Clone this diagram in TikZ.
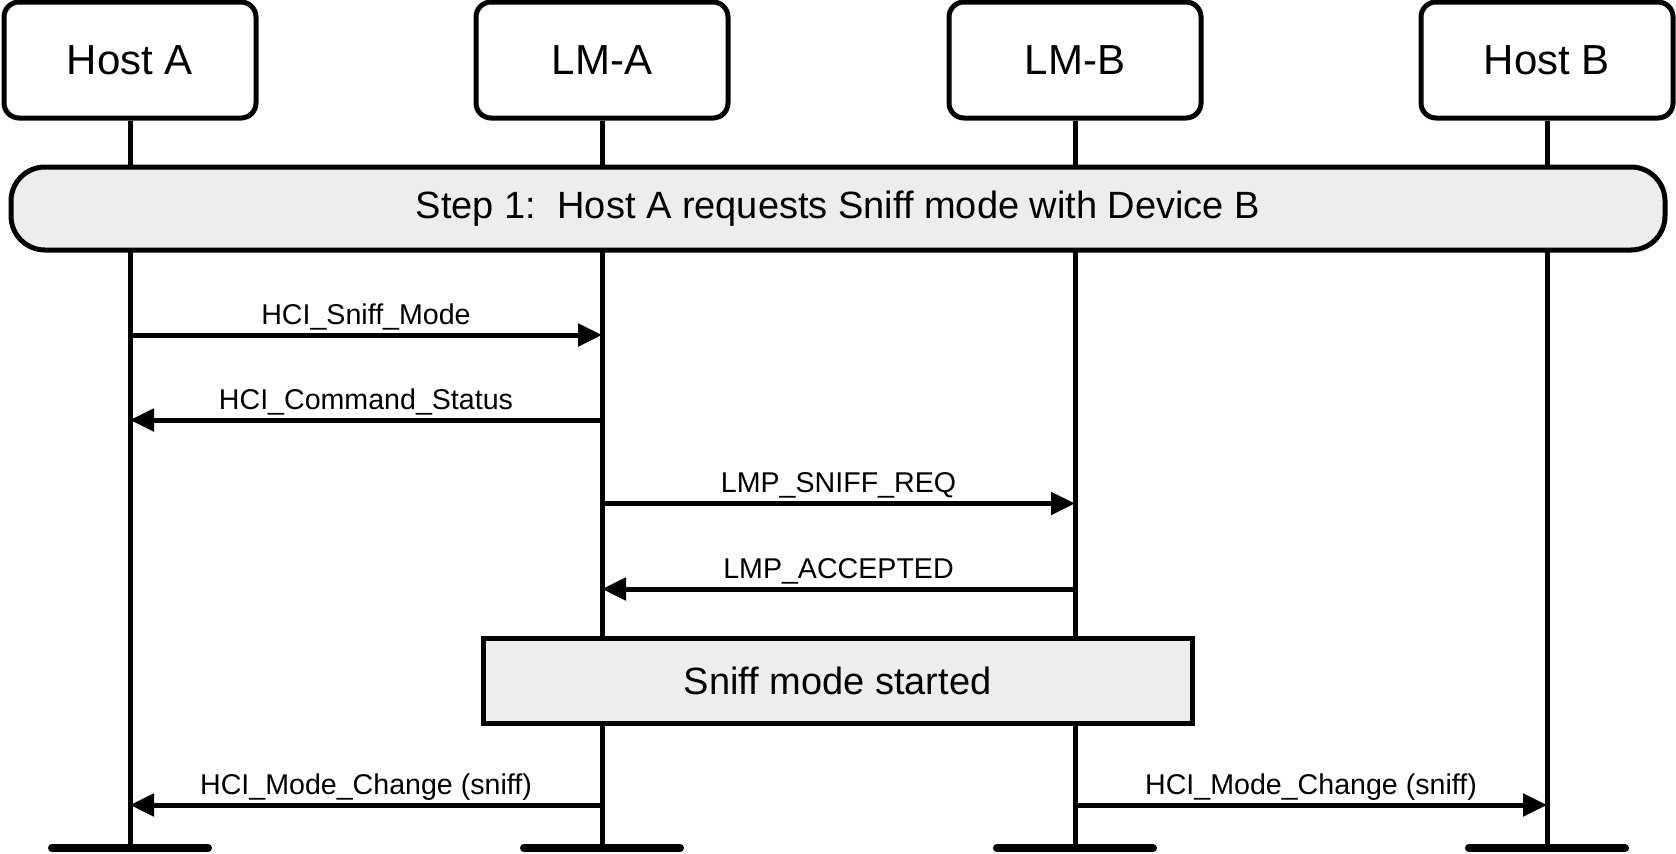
\documentclass[tikz,border=0pt]{standalone}
\usepackage{fontspec}
\setmainfont{Liberation Sans}
\usetikzlibrary{arrows.meta}
\definecolor{boxgray}{RGB}{237,237,237}
\begin{document}
\begin{tikzpicture}[x=0.5pt,y=-0.5pt,
  entity/.style={draw, line width=2.5pt, rounded corners=7.5pt, fill=white, minimum width=126pt, minimum height=58pt, inner sep=0pt, font=\fontsize{21}{25}\selectfont},
  lifeline/.style={line width=2.5pt},
  endbar/.style={line width=4pt, line cap=round},
  stepbox/.style={draw, line width=2.5pt, rounded corners=17pt, fill=boxgray, minimum width=827pt, minimum height=41.5pt, inner sep=0pt, font=\fontsize{19}{23}\selectfont},
  statebox/.style={draw, line width=2.5pt, fill=boxgray, minimum width=354.5pt, minimum height=42.5pt, inner sep=0pt, font=\fontsize{19}{23}\selectfont},
  msg/.style={line width=2.5pt, -{Triangle[length=12pt,width=11pt]}},
  msglabel/.style={font=\fontsize{14.3}{17}\selectfont, inner sep=0pt, anchor=base, yshift=5.5pt}
]
\useasboundingbox (0,0) rectangle (1676,853);

% entities
\node[entity] (hA) at (130,60) {Host A};
\node[entity] (lA) at (602,60) {LM-A};
\node[entity] (lB) at (1075,60) {LM-B};
\node[entity] (hB) at (1547,60) {Host B};

% lifeline ends
\coordinate (eA) at (130,848);
\coordinate (eLA) at (602,848);
\coordinate (eLB) at (1075,848);
\coordinate (eB) at (1547,848);

\draw[lifeline] (hA.south) -- (eA);
\draw[lifeline] (lA.south) -- (eLA);
\draw[lifeline] (lB.south) -- (eLB);
\draw[lifeline] (hB.south) -- (eB);

\draw[endbar] ([xshift=-39pt]eA) -- ([xshift=39pt]eA);
\draw[endbar] ([xshift=-39pt]eLA) -- ([xshift=39pt]eLA);
\draw[endbar] ([xshift=-39pt]eLB) -- ([xshift=39pt]eLB);
\draw[endbar] ([xshift=-39pt]eB) -- ([xshift=39pt]eB);

% step box
\node[stepbox] (step) at (838,208.5) {Step 1:\ \ Host A requests Sniff mode with Device B};

% messages
\coordinate (m1a) at (130,335);  \coordinate (m1b) at (602,335);
\coordinate (m2a) at (130,420);  \coordinate (m2b) at (602,420);
\coordinate (m3a) at (602,503.5); \coordinate (m3b) at (1075,503.5);
\coordinate (m4a) at (602,589);  \coordinate (m4b) at (1075,589);
\coordinate (m5a) at (130,805);  \coordinate (m5b) at (602,805);
\coordinate (m6a) at (1075,805); \coordinate (m6b) at (1547,805);

\draw[msg] (m1a) -- (m1b) node[msglabel, midway] {HCI\_Sniff\_Mode};
\draw[msg] (m2b) -- (m2a) node[msglabel, midway] {HCI\_Command\_Status};
\draw[msg] (m3a) -- (m3b) node[msglabel, midway] {LMP\_SNIFF\_REQ};
\draw[msg] (m4b) -- (m4a) node[msglabel, midway] {LMP\_ACCEPTED};

% state box
\node[statebox] (sniff) at (837.5,680.5) {Sniff mode started};

\draw[msg] (m5b) -- (m5a) node[msglabel, midway] {HCI\_Mode\_Change (sniff)};
\draw[msg] (m6a) -- (m6b) node[msglabel, midway] {HCI\_Mode\_Change (sniff)};
\end{tikzpicture}
\end{document}
